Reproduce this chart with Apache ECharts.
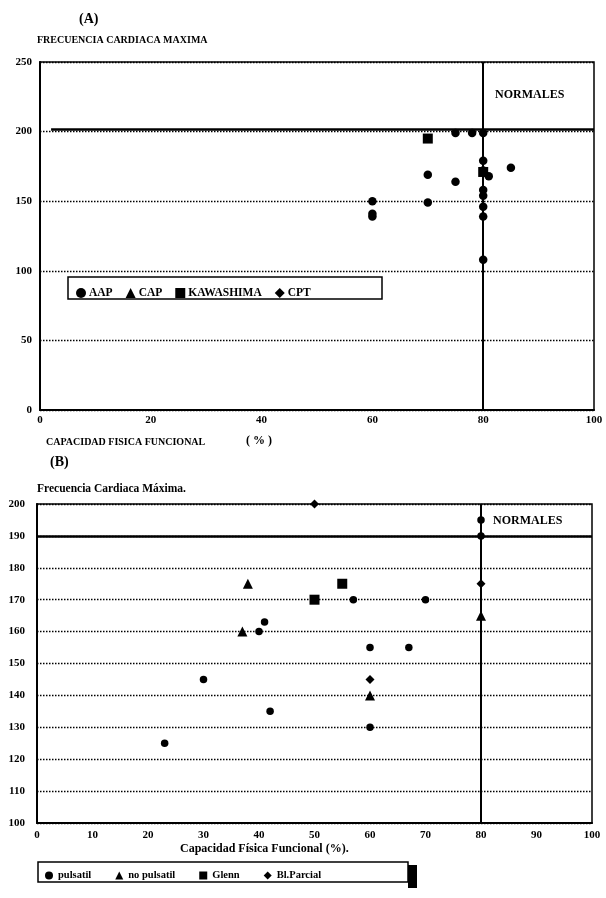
<!DOCTYPE html>
<html><head><meta charset="utf-8">
<script src="https://cdn.jsdelivr.net/npm/echarts@6/dist/echarts.min.js"></script>
<style>html,body{margin:0;padding:0;background:#fff}#c{width:606px;height:898px}</style>
</head><body><div id="c"></div>
<script>
// ---- Chart A data ----
const xTicksA = [0, 20, 40, 60, 80, 100];
const yTicksA = [0, 50, 100, 150, 200, 250];
const AAP = [[60,150],[60,141],[60,139],[70,169],[70,149],[75,199],[78,199],[80,199],[75,164],[85,174],[80,179],[80,172],[81,168],[80,158],[80,154],[80,146],[80,139],[80,108]];
const CAP = [];
const KAWASHIMA = [[70,195],[80,171]];
const CPT = [];
const limitA = { hr: 202, hrFrom: 2, hrTo: 100, cap: 80 };

// ---- Chart B data ----
const xTicksB = [0,10,20,30,40,50,60,70,80,90,100];
const yTicksB = [100,110,120,130,140,150,160,170,180,190,200];
const pulsatil = [[23,125],[30,145],[40,160],[41,163],[42,135],[57,170],[60,155],[60,130],[67,155],[70,170],[80,195],[80,190]];
const noPulsatil = [[37,160],[38,175],[60,140],[80,165]];
const glenn = [[50,170],[55,175]];
const blParcial = [[50,200],[60,145],[80,175]];
const limitB = { hr: 190, cap: 80 };

const FONT = '"Liberation Serif", "DejaVu Serif", serif';
const chart = echarts.init(document.getElementById('c'), null, {renderer:'canvas'});

function xAxis(gi, ticks, margin){
  return {type:'value', gridIndex:gi, min:ticks[0], max:ticks[ticks.length-1], interval:ticks[1]-ticks[0],
    axisLine:{show:true, onZero:false, lineStyle:{color:'#000', width:2}}, axisTick:{show:false},
    splitLine:{show:false},
    axisLabel:{color:'#000', fontFamily:FONT, fontWeight:'bold', fontSize:11, margin:margin}};
}
function yAxis(gi, ticks, margin){
  return {type:'value', gridIndex:gi, min:ticks[0], max:ticks[ticks.length-1], interval:ticks[1]-ticks[0],
    axisLine:{show:true, onZero:false, lineStyle:{color:'#000', width:2}}, axisTick:{show:false},
    splitLine:{show:true, lineStyle:{color:'#000', type:[1.5,1.5], width:1.3}},
    axisLabel:{color:'#000', fontFamily:FONT, fontWeight:'bold', fontSize:11, margin:margin}};
}
const ML = (data)=>({silent:true, symbol:'none', label:{show:false}, animation:false, data:data});

function sc(name, gi, data, symbol, size, extra){
  return Object.assign({type:'scatter', name:name, xAxisIndex:gi, yAxisIndex:gi, data:data, symbol:symbol, symbolSize:size,
    itemStyle:{color:'#000', opacity:1}, emphasis:{disabled:true}, animation:false, z:5}, extra||{});
}

const option = {
  animation:false,
  backgroundColor:'#fff',
  grid:[
    {left:40, right:12, top:62, height:348, show:true, borderColor:'#000', borderWidth:1.5, backgroundColor:'transparent'},
    {left:37, right:14, top:504, height:319, show:true, borderColor:'#000', borderWidth:1.5, backgroundColor:'transparent'}
  ],
  xAxis:[xAxis(0, xTicksA, 5), xAxis(1, xTicksB, 7)],
  yAxis:[yAxis(0, yTicksA, 8), yAxis(1, yTicksB, 12)],
  legend:[
    {data:['AAP','CAP','KAWASHIMA','CPT'], left:71, top:282, itemWidth:10, itemHeight:10, itemGap:13,
      textStyle:{fontFamily:FONT, fontWeight:'bold', fontSize:11.5, color:'#000', padding:[0,0,0,-2]}, selectedMode:false},
    {data:['pulsatil','no pulsatil','Glenn','Bl.Parcial'], left:40, top:865, itemWidth:8, itemHeight:8, itemGap:24,
      textStyle:{fontFamily:FONT, fontWeight:'bold', fontSize:10.5, color:'#000'}, selectedMode:false}
  ],
  series:[
    sc('AAP',0,AAP,'circle',8.5, {markLine:ML([
      [{coord:[limitA.hrFrom, limitA.hr], lineStyle:{color:'#000', width:2.5, type:'solid'}},{coord:[limitA.hrTo, limitA.hr]}],
      [{coord:[limitA.cap, yTicksA[0]], lineStyle:{color:'#000', width:2, type:'solid'}},{coord:[limitA.cap, yTicksA[yTicksA.length-1]]}]
    ])}),
    sc('CAP',0,CAP,'triangle',10),
    sc('KAWASHIMA',0,KAWASHIMA,'rect',10),
    sc('CPT',0,CPT,'diamond',10),
    sc('pulsatil',1,pulsatil,'circle',7.5, {markLine:ML([
      [{coord:[xTicksB[0], limitB.hr], lineStyle:{color:'#000', width:2.5, type:'solid'}},{coord:[xTicksB[xTicksB.length-1], limitB.hr]}],
      [{coord:[limitB.cap, yTicksB[0]], lineStyle:{color:'#000', width:2, type:'solid'}},{coord:[limitB.cap, yTicksB[yTicksB.length-1]]}]
    ])}),
    sc('no pulsatil',1,noPulsatil,'triangle',10),
    sc('Glenn',1,glenn,'rect',10),
    sc('Bl.Parcial',1,blParcial,'diamond',9)
  ],
  graphic:[
    {type:'text', left:79, top:12, style:{text:'(A)', font:'bold 14px '+FONT, fill:'#000'}},
    {type:'text', left:37, top:35, style:{text:'FRECUENCIA CARDIACA MAXIMA', font:'bold 10px '+FONT, fill:'#000'}},
    {type:'text', left:495, top:89, style:{text:'NORMALES', font:'bold 12px '+FONT, fill:'#000'}},
    {type:'rect', shape:{x:68, y:277, width:314, height:22}, style:{fill:'none', stroke:'#000', lineWidth:1.5}, z:0},
    {type:'text', left:46, top:437, style:{text:'CAPACIDAD FISICA FUNCIONAL', font:'bold 10px '+FONT, fill:'#000'}},
    {type:'text', left:246, top:435, style:{text:'( % )', font:'bold 12px '+FONT, fill:'#000'}},
    {type:'text', left:50, top:455, style:{text:'(B)', font:'bold 14px '+FONT, fill:'#000'}},
    {type:'text', left:37, top:483, style:{text:'Frecuencia Cardiaca Máxima.', font:'bold 11.5px '+FONT, fill:'#000'}},
    {type:'text', left:493, top:515, style:{text:'NORMALES', font:'bold 12px '+FONT, fill:'#000'}},
    {type:'text', left:180, top:843, style:{text:'Capacidad Física Funcional (%).', font:'bold 12px '+FONT, fill:'#000'}},
    {type:'rect', shape:{x:38, y:862, width:370, height:20}, style:{fill:'none', stroke:'#000', lineWidth:1.5}, z:0},
    {type:'rect', shape:{x:408, y:865, width:9, height:23}, style:{fill:'#000'}, z:0}
  ]
};
chart.setOption(option);
</script></body></html>
